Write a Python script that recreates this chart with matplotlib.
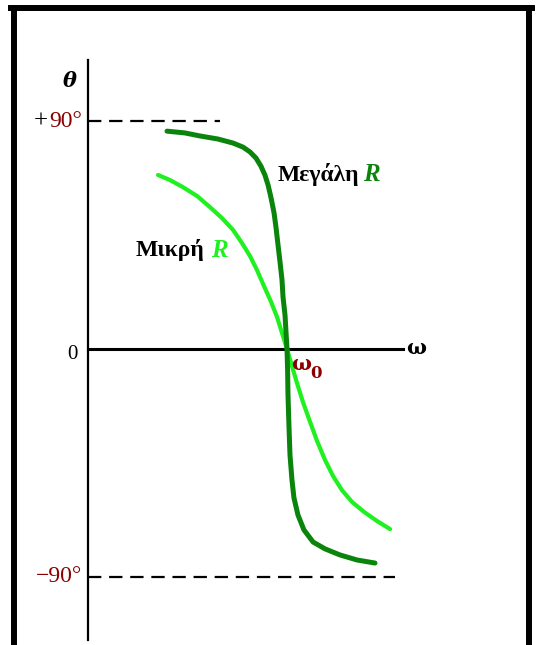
import matplotlib.pyplot as plt
from matplotlib.lines import Line2D

# frequency in units of w0, phase in degrees
w_big = [0.397, 0.487, 0.563, 0.653, 0.729, 0.779, 0.814, 0.844, 0.869, 0.889,
         0.905, 0.920, 0.935, 0.945, 0.955, 0.965, 0.975, 0.980, 0.990, 0.995,
         1.000, 1.003, 1.005, 1.010, 1.015, 1.025, 1.035, 1.055, 1.085, 1.131,
         1.191, 1.266, 1.352, 1.442]
theta_big = [86.0, 85.3, 84.1, 82.9, 81.3, 79.7, 77.8, 75.4, 72.2, 68.7,
             64.7, 59.6, 53.7, 47.8, 41.0, 34.3, 27.2, 20.5, 13.4, 6.7,
             0.0, -8.3, -18.2, -30.8, -41.8, -51.7, -58.8, -65.5, -71.4, -76.2,
             -78.9, -81.3, -83.3, -84.5]

w_small = [0.352, 0.412, 0.477, 0.548, 0.613, 0.673, 0.729, 0.774, 0.814, 0.849,
           0.884, 0.920, 0.950, 0.975, 1.000, 1.025, 1.050, 1.080, 1.116, 1.151,
           1.191, 1.231, 1.276, 1.327, 1.387, 1.452, 1.518]
theta_small = [68.7, 66.7, 63.9, 60.4, 56.0, 51.7, 47.0, 41.8, 36.7, 31.2,
               24.9, 18.6, 12.6, 6.3, 0.0, -6.7, -13.4, -20.9, -28.8, -36.3,
               -43.8, -50.1, -55.7, -60.4, -64.3, -67.9, -71.1]

dark_green = '#0b840b'
light_green = '#1ff01f'
dark_red = '#8b0000'

fig = plt.figure(figsize=(5.37, 6.45), dpi=100)
ax = fig.add_axes([0, 0, 1, 1])
ax.set_xlim(-88 / 199, (537 - 88) / 199)
ax.set_ylim(-(645 - 349) / 2.533, 349 / 2.533)
ax.axis('off')

# axes
ax.plot([0, 0], [-114.9, 114.1], color='black', lw=1.6)
ax.plot([0, 1.583], [0, 0], color='black', lw=2.2)
ax.plot([0, 0.663], [90, 90], color='black', lw=1.6, ls=(0, (6, 3.5)))
ax.plot([0, 1.543], [-90, -90], color='black', lw=1.6, ls=(0, (6, 3.5)))

# curves
ax.plot(w_small, theta_small, color=light_green, lw=3.0,
        solid_capstyle='round', solid_joinstyle='round')
ax.plot(w_big, theta_big, color=dark_green, lw=3.6,
        solid_capstyle='round', solid_joinstyle='round')

serif = 'Liberation Serif'
ax.text(-0.03, 90, '90°', color=dark_red, fontsize=17, family=serif,
        ha='right', va='center')
ax.text(-0.2, 90, '+', color='black', fontsize=18, family=serif,
        ha='right', va='center')
ax.text(-0.03, -90, '−90°', color=dark_red, fontsize=17, family=serif,
        ha='right', va='center')
ax.text(-0.05, -2, '0', color='black', fontsize=15, family=serif,
        ha='right', va='center')
ax.text(-0.09, 106, 'θ', color='black', fontsize=15, family='DejaVu Serif',
        weight='bold', style='italic', ha='center', va='center')
ax.text(1.65, 0.5, 'ω', color='black', fontsize=15, family='DejaVu Serif',
        weight='bold', ha='center', va='center')
ax.text(1.02, -6, 'ω', color=dark_red, fontsize=15, family='DejaVu Serif',
        weight='bold', ha='left', va='center')
ax.text(1.115, -9.5, '0', color=dark_red, fontsize=12, family='DejaVu Serif',
        weight='bold', ha='left', va='center')

ax.text(0.955, 69, 'Μεγάλη', color='black', fontsize=17, family=serif,
        weight='bold', ha='left', va='center')
ax.text(1.38, 69, 'R', color=dark_green, fontsize=18, family=serif,
        weight='bold', style='italic', ha='left', va='center')
ax.text(0.241, 39, 'Μικρή', color='black', fontsize=17, family=serif,
        weight='bold', ha='left', va='center')
ax.text(0.62, 39, 'R', color=light_green, fontsize=18, family=serif,
        weight='bold', style='italic', ha='left', va='center')

# frame
for xs, ys in [([13.5 / 537, 13.5 / 537], [0, 1 - 8 / 645]),
               ([11 / 537, 532 / 537], [1 - 8 / 645, 1 - 8 / 645]),
               ([529 / 537, 529 / 537], [0, 1 - 8 / 645])]:
    fig.add_artist(Line2D(xs, ys, transform=fig.transFigure, color='black',
                          lw=4.3))

fig.savefig('out.png', dpi=100)
